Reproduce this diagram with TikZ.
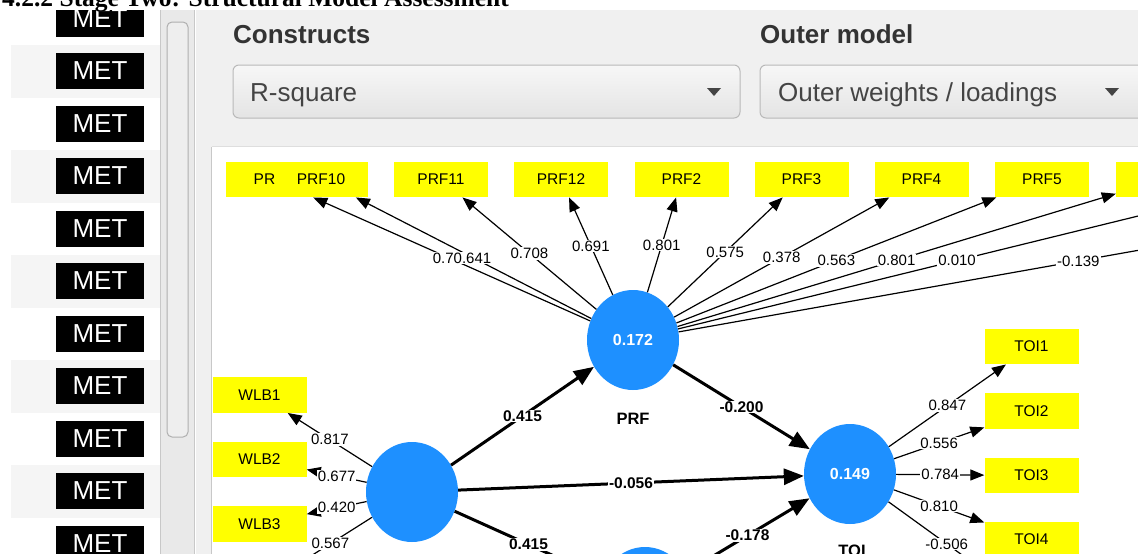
\documentclass[tikz,border=0pt]{standalone}
\usepackage{fontspec}
\setmainfont{Liberation Sans}
\newfontfamily\headfont{Liberation Serif}
\usetikzlibrary{arrows.meta,shapes.geometric}
\definecolor{plsblue}{RGB}{30,144,255}
\definecolor{panelgray}{RGB}{240,240,240}
\definecolor{stripegray}{RGB}{245,245,245}
\definecolor{scrollgray}{RGB}{233,233,233}
\definecolor{thumbgray}{RGB}{238,238,238}
\definecolor{thumbborder}{RGB}{175,175,175}
\definecolor{sepgray}{RGB}{200,200,200}
\definecolor{ddborder}{RGB}{185,185,185}
\definecolor{ddtop}{RGB}{247,247,247}
\definecolor{ddbottom}{RGB}{228,228,228}
\definecolor{hdrtext}{RGB}{51,51,51}
\definecolor{ddtext}{RGB}{68,68,68}
\definecolor{yel}{RGB}{255,255,0}
\begin{document}
\begin{tikzpicture}[x=1pt,y=-1pt,
  ybox/.style={fill=yel, minimum width=94pt, minimum height=35.5pt, inner sep=0pt, font=\fontsize{15.5}{18}\selectfont},
  ytext/.style={inner sep=0pt, font=\fontsize{15.5}{18}\selectfont},
  lv/.style={ellipse, fill=plsblue, minimum width=92pt, minimum height=100pt, inner sep=0pt, text=white, font=\bfseries\fontsize{16}{19}\selectfont},
  lvname/.style={inner sep=0pt, font=\bfseries\fontsize{16.5}{19}\selectfont},
  meas/.style={line width=1.2pt, -{Triangle[length=14pt,width=11pt]}},
  struct/.style={line width=3pt, -{Triangle[length=20pt,width=16pt]}},
  lbl/.style={fill=white, inner sep=1pt, font=\fontsize{15}{18}\selectfont},
  blbl/.style={fill=white, inner sep=1pt, font=\bfseries\fontsize{15.5}{18}\selectfont},
  metbox/.style={fill=black, text=white, minimum width=88pt, minimum height=36pt, inner sep=0pt, font=\fontsize{26}{30}\selectfont},
  hdr/.style={anchor=base west, inner sep=0pt, text=hdrtext, font=\bfseries\fontsize{26}{30}\selectfont},
  ddlabel/.style={anchor=base west, inner sep=0pt, text=ddtext, font=\fontsize{26}{30}\selectfont},
  dropdown/.style={draw=ddborder, top color=ddtop, bottom color=ddbottom, rounded corners=6pt, line width=1pt}
]
\useasboundingbox (0,0) rectangle (1138,554);
\clip (0,0) rectangle (1138,554);
\fill[white] (0,0) rectangle (1138,554);

% left list column
\foreach \i in {1,3,5,7,9}{
  \fill[stripegray] (11,{52.5*\i-7.5}) rectangle (160,{52.5*\i+45});
}
\foreach \i in {0,...,10}{
  \node[metbox] (met\i) at (100,{18.5+52.5*\i}) {MET};
}

% scrollbar
\fill[scrollgray] (160,10) rectangle (194,554);
\draw[sepgray] (160.5,10) -- (160.5,554);
\draw[thumbborder, fill=thumbgray, rounded corners=5pt, line width=1pt] (167,22) rectangle (188,437);
\draw[sepgray, line width=1.5pt] (194.5,10) -- (194.5,554);

% right panel
\fill[panelgray] (195.5,10) rectangle (1138,554);
\fill[white] (212,147) rectangle (1138,554);
\draw[sepgray] (211.5,147) -- (211.5,554);
\draw[sepgray!60] (211.5,146.5) -- (1138,146.5);

% header controls
\node[hdr] (hconstr) at (233,43) {Constructs};
\node[hdr] (houter) at (760,43) {Outer model};
\path[dropdown] (233,65) rectangle (740,118);
\path[dropdown] (760,65) rectangle (1170,118);
\node[ddlabel] (rsq) at (250,101) {R-square};
\node[ddlabel] (owl) at (778,101) {Outer weights / loadings};
\fill[ddtext] (707,88) -- (721,88) -- (714,96) -- cycle;
\fill[ddtext] (1105,88) -- (1119,88) -- (1112,96) -- cycle;

% latent variables
\node[lv] (prf) at (633,340) {0.172};
\node[lv] (wlb) at (412,492) {};
\node[lv] (toi) at (850,474) {0.149};
\node[lv] (ml) at (645,597) {};
\node[lvname] (prfname) at (633,419) {PRF};
\node[lvname] (toiname) at (852,551) {TOI};

% indicator boxes, top row
\node[ybox] (prf1) at (273,179.5) {};
\node[ybox] (prf10) at (321,179.5) {PRF10};
\node[ytext, anchor=west] (prf1t) at (253.5,179.5) {PR};
\node[ybox] (prf11) at (441,179.5) {PRF11};
\node[ybox] (prf12) at (561,179.5) {PRF12};
\node[ybox] (prf2) at (681.5,179.5) {PRF2};
\node[ybox] (prf3) at (801.5,179.5) {PRF3};
\node[ybox] (prf4) at (921.5,179.5) {PRF4};
\node[ybox] (prf5) at (1042,179.5) {PRF5};
\node[ybox] (prf6) at (1163,179.5) {};
\coordinate (prf7end) at (1236,192);
\coordinate (prf9end) at (1478,190);

% TOI boxes
\node[ybox] (toi1) at (1031.5,346.5) {TOI1};
\node[ybox] (toi2) at (1031.5,411) {TOI2};
\node[ybox] (toi3) at (1031.5,475.5) {TOI3};
\node[ybox] (toi4) at (1031.5,539.5) {TOI4};
\coordinate (toi5end) at (1005,586);

% WLB boxes
\node[ybox] (wlb1) at (259.5,395) {WLB1};
\node[ybox] (wlb2) at (259.5,459.5) {WLB2};
\node[ybox] (wlb3) at (259.5,524) {WLB3};
\coordinate (wlb4end) at (288.7,570);

% PRF measurement arrows
\draw[meas] (prf) -- (prf1);
\draw[meas] (prf) -- (prf10);
\draw[meas] (prf) -- node[lbl]{0.708} (prf11);
\draw[meas] (prf) -- node[lbl]{0.691} (prf12);
\draw[meas] (prf) -- node[lbl]{0.801} (prf2);
\draw[meas] (prf) -- node[lbl]{0.575} (prf3);
\draw[meas] (prf) -- node[lbl]{0.378} (prf4);
\draw[meas] (prf) -- node[lbl]{0.563} (prf5);
\draw[meas] (prf) -- node[lbl]{0.801} (prf6);
\draw[meas] (prf) -- node[lbl]{0.010} (prf7end);
\draw[meas] (prf) -- node[lbl]{-0.139} (prf9end);
\node[lbl] (prf1lbl) at (462,258) {0.70.641};

% TOI measurement arrows
\draw[meas] (toi) -- node[lbl]{0.847} (toi1);
\draw[meas] (toi) -- node[lbl]{0.556} (toi2);
\draw[meas] (toi) -- node[lbl]{0.784} (toi3);
\draw[meas] (toi) -- node[lbl]{0.810} (toi4);
\draw[meas] (toi) -- node[lbl]{-0.506} (toi5end);

% WLB measurement arrows
\draw[meas] (wlb) -- node[lbl]{0.817} (wlb1);
\draw[meas] (wlb) -- node[lbl]{0.677} (wlb2);
\draw[meas] (wlb) -- node[lbl]{0.420} (wlb3);
\draw[meas] (wlb) -- node[lbl]{0.567} (wlb4end);

% structural paths
\draw[struct] (wlb) -- node[blbl]{0.415} (prf);
\draw[struct] (prf) -- node[blbl]{-0.200} (toi);
\draw[struct] (wlb) -- node[blbl]{-0.056} (toi);
\draw[struct] (wlb) -- node[blbl]{0.415} (ml);
\draw[struct] (ml) -- node[blbl]{-0.178} (toi);

% heading band
\fill[white] (0,0) rectangle (1138,10);
\node[anchor=base west, inner sep=0pt, font=\headfont\bfseries\fontsize{25.5}{29}\selectfont] (heading) at (2,6.5) {4.2.2 Stage Two: Structural Model Assessment};
\end{tikzpicture}
\end{document}
